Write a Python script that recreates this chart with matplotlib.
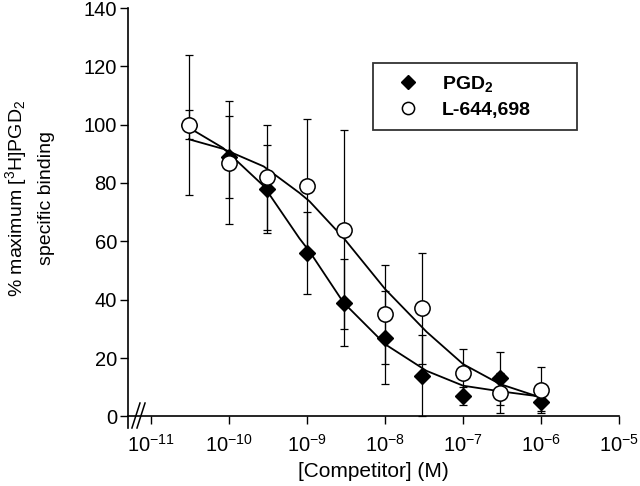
import numpy as np
import matplotlib
matplotlib.use("Agg")
import matplotlib.pyplot as plt
from matplotlib.ticker import NullLocator

plt.rcParams['font.family'] = ['Liberation Sans', 'DejaVu Sans']
plt.rcParams['mathtext.fontset'] = 'custom'
plt.rcParams['mathtext.rm'] = 'Liberation Sans'
plt.rcParams['mathtext.it'] = 'Liberation Sans:italic'
plt.rcParams['mathtext.bf'] = 'Liberation Sans:bold'

# ---- data ----
conc = [3e-11, 1e-10, 3e-10, 1e-9, 3e-9, 1e-8, 3e-8, 1e-7, 3e-7, 1e-6]
pgd2_y = [100, 89, 78, 56, 39, 27, 14, 7, 13, 5]
pgd2_err = [5, 14, 15, 14, 15, 16, 14, 3, 9, 3]
l644_y = [100, 87, 82, 79, 64, 35, 37, 15, 8, 9]
l644_err = [24, 21, 18, 23, 34, 17, 19, 8, 7, 8]

# fitted curves (log10 concentration, % binding)
pgd2_fit_logx = [-10.52, -10.08, -9.56, -9.10, -8.97, -8.535, -8.0, -7.47, -7.0, -6.53, -6.1, -6.0]
pgd2_fit_y = [99, 92, 79, 61, 56.5, 39, 24.7, 15.6, 10.5, 8.6, 7.1, 6.5]
l644_fit_logx = [-10.52, -10.08, -9.56, -9.10, -8.97, -8.535, -8.0, -7.47, -7.0, -6.53, -6.1, -6.0]
l644_fit_y = [95, 91.7, 85.7, 76.6, 73.7, 61.2, 43.6, 29, 17.9, 11.1, 7.3, 6.5]

xticks = [1e-11, 1e-10, 1e-9, 1e-8, 1e-7, 1e-6, 1e-5]
xticklabels = ['$10^{-11}$', '$10^{-10}$', '$10^{-9}$', '$10^{-8}$', '$10^{-7}$', '$10^{-6}$', '$10^{-5}$']
yticks = [0, 20, 40, 60, 80, 100, 120, 140]
series_labels = [r'PGD$_\mathbf{2}$', 'L-644,698']

# ---- figure ----
fig = plt.figure(figsize=(6.4, 4.86), dpi=100)
ax = fig.add_axes([128/640, 1-428/486, 491/640, 420/486])

ax.set_xscale('log')
ax.set_xlim(10**-11.3, 1e-5)
ax.set_ylim(-4, 140)

for s in ['top', 'right']:
    ax.spines[s].set_visible(False)
ax.spines['bottom'].set_position(('data', 0))
for s in ['left', 'bottom']:
    ax.spines[s].set_linewidth(1.2)

ax.set_xticks(xticks)
ax.set_xticklabels(xticklabels)
ax.xaxis.set_minor_locator(NullLocator())
ax.set_yticks(yticks)
ax.set_yticklabels([str(v) for v in yticks])
ax.tick_params(axis='both', direction='out', length=6, width=1.0)
ax.tick_params(axis='x', pad=7, labelsize=14.5)
ax.tick_params(axis='y', pad=2, labelsize=14.5)

lw_err = 0.9
ax.errorbar(conc, l644_y, yerr=l644_err, fmt='none', ecolor='black',
            elinewidth=lw_err, capsize=2.6, capthick=lw_err, zorder=2)
ax.errorbar(conc, pgd2_y, yerr=pgd2_err, fmt='none', ecolor='black',
            elinewidth=lw_err, capsize=2.6, capthick=lw_err, zorder=2)

ax.plot(10**np.array(pgd2_fit_logx), pgd2_fit_y, color='black', lw=1.3, zorder=3)
ax.plot(10**np.array(l644_fit_logx), l644_fit_y, color='black', lw=1.3, zorder=3)

h1, = ax.plot(conc, pgd2_y, 'D', ms=8.5, color='black', linestyle='none', zorder=4)
h2, = ax.plot(conc, l644_y, 'o', ms=11, mfc='white', mec='black', mew=1.1,
              linestyle='none', zorder=5)

# axis break marks
for x0 in (0.008, 0.0183):
    ax.plot([x0, x0 + 0.0164], [0.0, 0.0595], transform=ax.transAxes,
            color='black', lw=1.1, clip_on=False, zorder=6)

ax.set_xlabel('[Competitor] (M)', fontsize=15)
ax.xaxis.set_label_coords(0.5, -0.082)
ax.xaxis.label.set_va('top')
ax.set_ylabel('% maximum [$^3$H]PGD$_2$\nspecific binding', fontsize=14,
              linespacing=1.75)
ax.yaxis.set_label_coords(-0.148, 0.547)

leg = ax.legend([h1, h2], series_labels, loc='upper left',
                bbox_to_anchor=(0.499, 0.705, 0.4155, 0.164), mode='expand',
                prop={'weight': 'bold', 'size': 14}, frameon=True,
                fancybox=False, edgecolor='black', markerscale=0.8,
                handlelength=2.5, handletextpad=0.5, borderpad=0.55,
                labelspacing=0.4, borderaxespad=0)
leg.get_frame().set_linewidth(1.3)

fig.savefig('out.png', dpi=100)
